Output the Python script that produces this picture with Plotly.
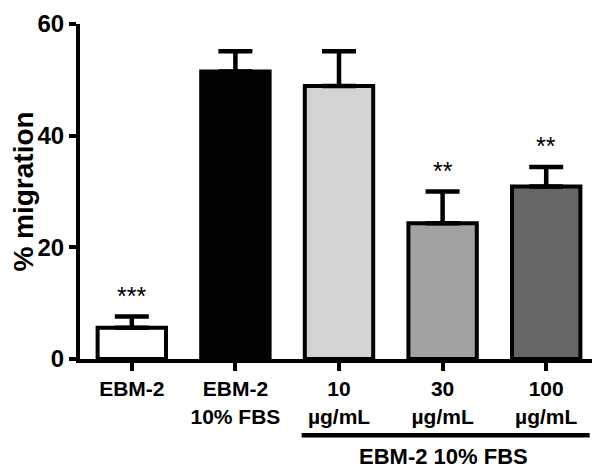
import plotly.graph_objects as go

categories = ["EBM-2", "EBM-2<br>10% FBS", "10<br>µg/mL", "30<br>µg/mL", "100<br>µg/mL"]
migration = [5.6, 51.5, 48.9, 24.3, 30.9]
sem = [2.0, 3.6, 6.2, 5.7, 3.5]
significance = ["***", "", "", "**", "**"]
bar_colors = ["#ffffff", "#000000", "#d4d4d4", "#a2a2a4", "#666666"]
group_label = "EBM-2 10% FBS"

FONT = "Liberation Sans, Arial, sans-serif"

fig = go.Figure()
fig.add_trace(go.Bar(
    x=list(range(len(categories))),
    y=migration,
    marker=dict(color=bar_colors, line=dict(color="black", width=4)),
    error_y=dict(type="data", symmetric=False, array=sem,
                 arrayminus=[0] * len(sem), color="black",
                 thickness=4.5, width=17),
    width=0.66,
    showlegend=False,
))

for i, s in enumerate(significance):
    if s:
        fig.add_annotation(x=i, y=migration[i] + sem[i], text=s,
                           showarrow=False, yanchor="bottom", yshift=5,
                           font=dict(family=FONT, size=25, color="black"))

# group bracket under the treated bars
fig.add_shape(type="line", xref="x", yref="paper", x0=1.64, x1=4.42,
              y0=-0.2275, y1=-0.2275, line=dict(color="black", width=4.5))
fig.add_annotation(x=3.01, y=-0.292, xref="x", yref="paper", text=group_label,
                   showarrow=False, yanchor="middle",
                   font=dict(family=FONT, size=22, color="black", weight="bold"))

fig.update_layout(
    width=592, height=467,
    margin=dict(l=72, r=2, t=7, b=116),
    plot_bgcolor="white", paper_bgcolor="white",
    font=dict(family=FONT, color="black"),
)
fig.update_xaxes(
    range=[-0.5, 4.5], tickmode="array", tickvals=list(range(len(categories))),
    ticktext=categories, showline=True, linecolor="black", linewidth=4,
    ticks="outside", ticklen=8, tickwidth=3.5, tickcolor="black",
    tickfont=dict(family=FONT, size=21, color="black", weight="bold"),
    showgrid=False, zeroline=False,
)
fig.update_yaxes(
    range=[0, 60], tickvals=[0, 20, 40, 60], showline=True, linecolor="black",
    linewidth=4, ticks="outside", ticklen=7, tickwidth=3.5, tickcolor="black",
    ticklabeloverflow="allow",
    tickfont=dict(family=FONT, size=24, color="black", weight="bold"),
    title=dict(text="% migration", standoff=2,
               font=dict(family=FONT, size=28, color="black", weight="bold")),
    showgrid=False, zeroline=False,
)

fig.write_html("out.html")
